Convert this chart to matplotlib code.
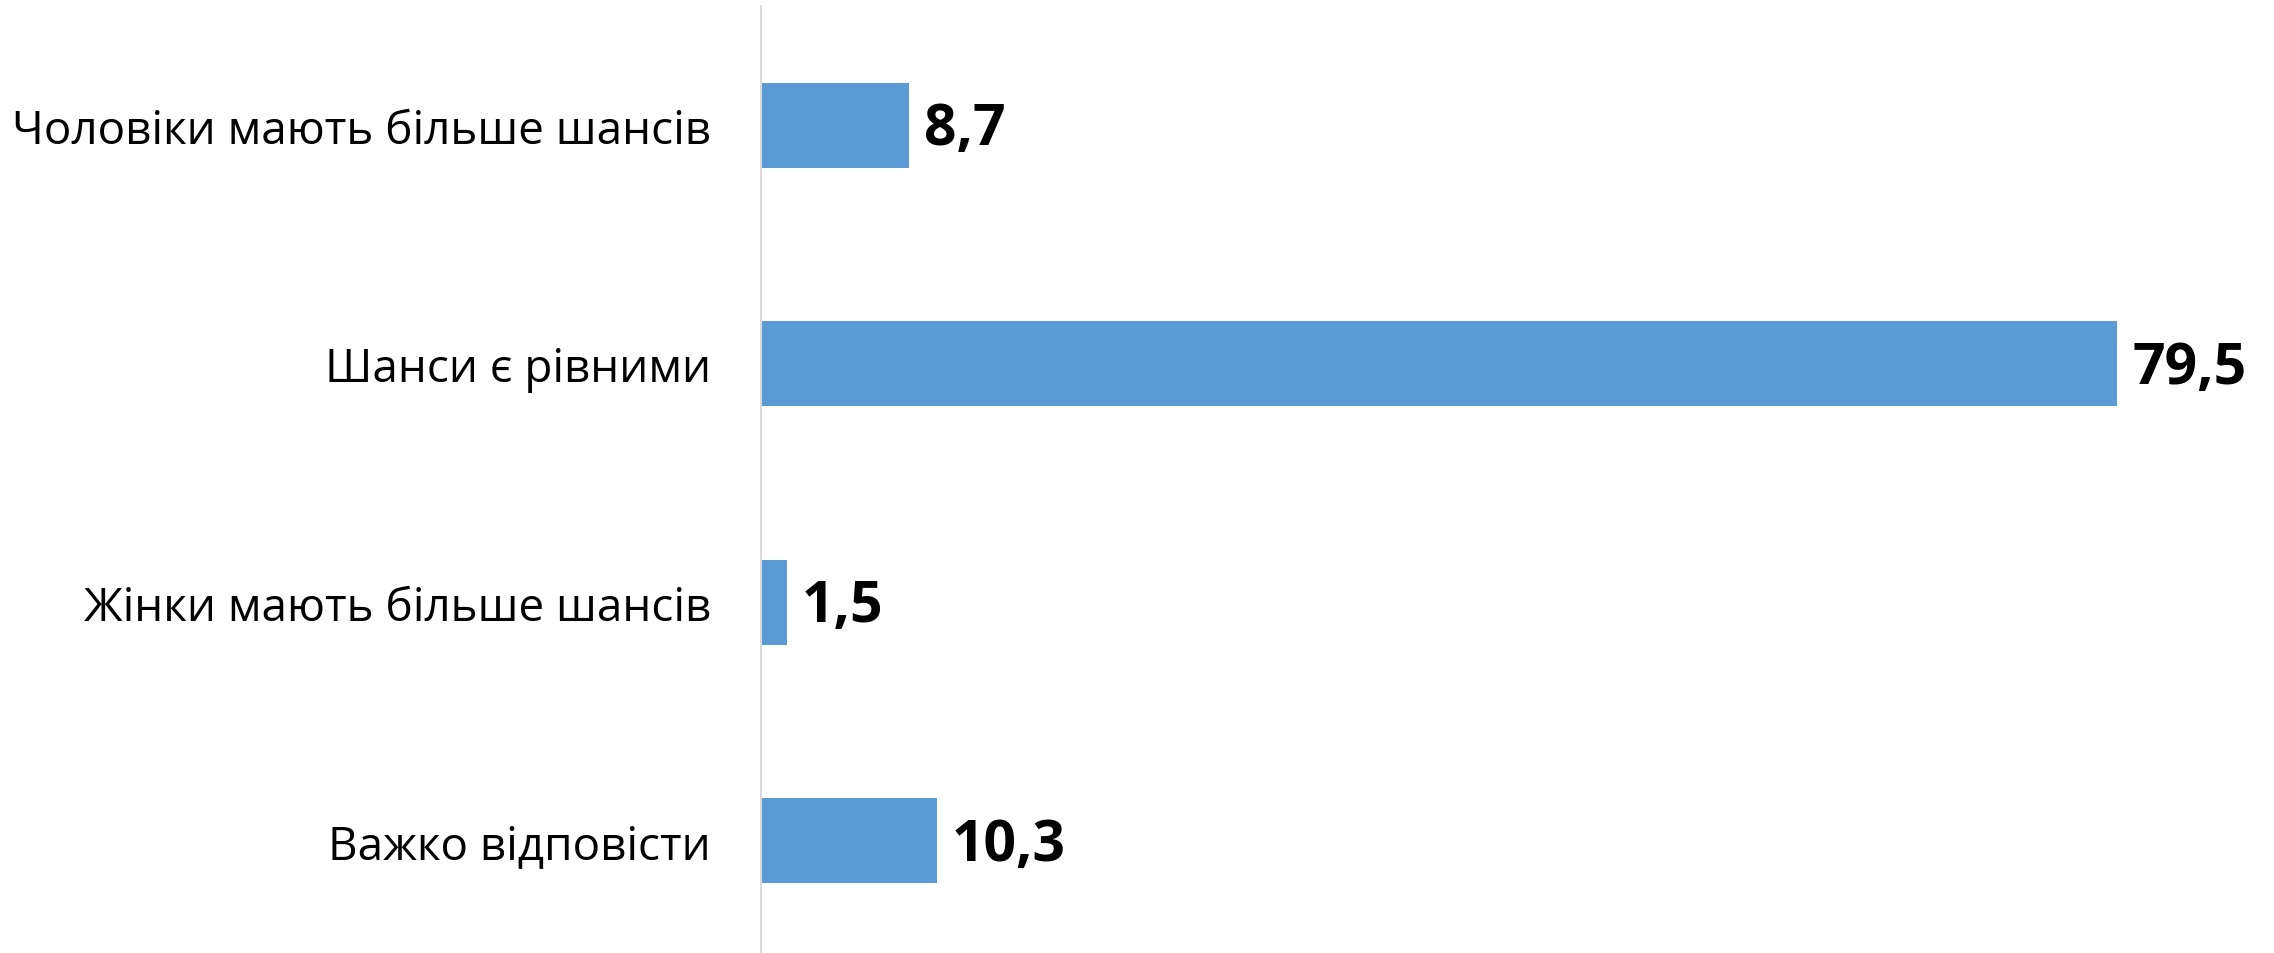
import matplotlib
matplotlib.use("Agg")
import matplotlib.pyplot as plt

categories = ["Чоловіки мають більше шансів", "Шанси є рівними",
              "Жінки мають більше шансів", "Важко відповісти"]
values = [8.7, 79.5, 1.5, 10.3]
value_labels = ["8,7", "79,5", "1,5", "10,3"]

plt.rcParams['font.family'] = ['Open Sans', 'DejaVu Sans']

fig = plt.figure(figsize=(22.74, 9.54), dpi=100)
ax = fig.add_axes([761/2274, 0, 1 - 761/2274, 1 - 7/954])

ypos = list(range(len(categories)))
ax.barh(ypos, values, height=0.355, color="#5B9BD5", edgecolor="none")

for y, v, lab in zip(ypos, values, value_labels):
    ax.annotate(lab, xy=(v, y), xytext=(15, -4), textcoords="offset pixels",
                ha="left", va="center", fontsize=41, fontweight="bold", color="black")

ax.set_xlim(0, (2274 - 761) / 17.06)
ax.set_ylim(-0.5 + 947 / 238.5, -0.5)
ax.set_yticks(ypos)
ax.set_yticklabels(categories, fontsize=33, color="black")
ax.tick_params(axis="y", length=0, pad=36)
ax.set_xticks([])
for s in ["top", "right", "bottom"]:
    ax.spines[s].set_visible(False)
ax.spines["left"].set_color("#D9D9D9")
ax.spines["left"].set_linewidth(1.5)
ax.patch.set_alpha(0)

fig.savefig("out.png", dpi=100, facecolor="white")
